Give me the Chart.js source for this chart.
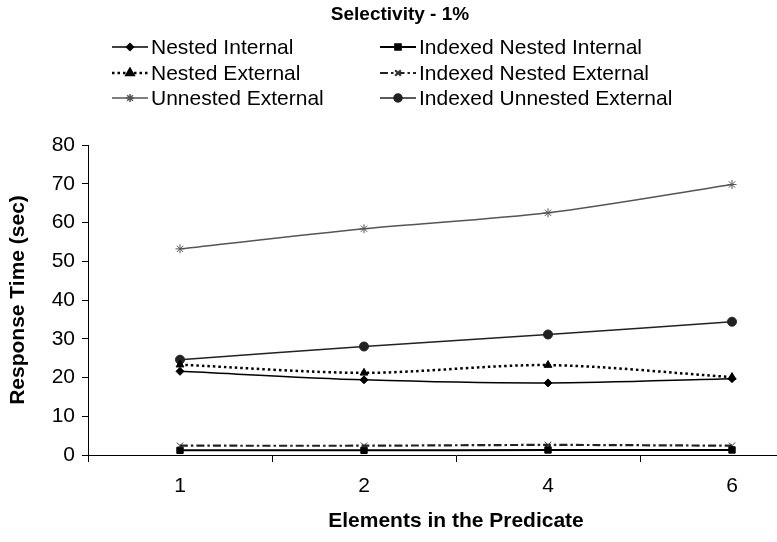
<!DOCTYPE html>
<html>
<head>
<meta charset="utf-8">
<script src="https://cdn.jsdelivr.net/npm/chart.js@4"></script>
<style>
  html, body { margin: 0; padding: 0; background: #fff; overflow: hidden; }
  #wrap { width: 830px; height: 542px; }
</style>
</head>
<body>
<div id="wrap"><canvas id="myChart"></canvas></div>
<script>
// Data
const categories = ['1', '2', '4', '6'];
const nestedInternal = [21.6, 19.4, 18.6, 19.7];
const indexedNestedInternal = [1.2, 1.2, 1.3, 1.3];
const nestedExternal = [23.3, 21.2, 23.2, 20.1];
const indexedNestedExternal = [2.4, 2.4, 2.6, 2.4];
const unnestedExternal = [53.2, 58.4, 62.5, 69.8];
const indexedUnnestedExternal = [24.6, 28.0, 31.1, 34.4];
const yTicks = [0, 10, 20, 30, 40, 50, 60, 70, 80];

const FONT = '"Liberation Sans", Arial, sans-serif';

// Legend laid out as a 2x3 grid like the original
const legendCols = [112, 380];
const legendRows = [47, 73, 98];
const legendLine = 36;

const gridLegend = {
  id: 'gridLegend',
  afterDraw(chart) {
    const ctx = chart.ctx;
    chart.data.datasets.forEach((ds, i) => {
      const x = legendCols[i % 2];
      const y = legendRows[Math.floor(i / 2)];
      ctx.save();
      ctx.strokeStyle = ds.borderColor;
      ctx.lineWidth = ds.borderWidth;
      ctx.setLineDash(ds.borderDash || []);
      ctx.beginPath();
      ctx.moveTo(x, y);
      ctx.lineTo(x + legendLine, y);
      ctx.stroke();
      ctx.setLineDash([]);
      ctx.fillStyle = ds.pointBackgroundColor;
      ctx.strokeStyle = ds.pointBorderColor;
      Chart.helpers.drawPoint(ctx, {
        pointStyle: ds.pointStyle,
        radius: ds.pointRadius - 0.5,
        borderWidth: 1,
        rotation: 0
      }, x + legendLine / 2, y);
      ctx.fillStyle = '#000';
      ctx.font = '21px ' + FONT;
      ctx.textBaseline = 'middle';
      ctx.fillText(ds.label, x + legendLine + 3, y + 1);
      ctx.restore();
    });
  }
};

function series(label, data, style) {
  return Object.assign({
    label: label,
    data: data,
    borderColor: '#000',
    backgroundColor: '#000',
    pointBackgroundColor: '#000',
    pointBorderColor: '#000',
    borderWidth: 1.5,
    pointRadius: 4,
    pointBorderWidth: 1,
    tension: 0.3,
    fill: false
  }, style);
}

const ctx = document.getElementById('myChart');

new Chart(ctx, {
  type: 'line',
  data: {
    labels: categories,
    datasets: [
      series('Nested Internal', nestedInternal, { pointStyle: 'rectRot', pointRadius: 4 }),
      series('Indexed Nested Internal', indexedNestedInternal, { pointStyle: 'rect', pointRadius: 4.5, borderWidth: 2 }),
      series('Nested External', nestedExternal, { pointStyle: 'triangle', pointRadius: 4.5, borderWidth: 2.5, borderDash: [2.5, 3] }),
      series('Indexed Nested External', indexedNestedExternal, { pointStyle: 'crossRot', pointRadius: 4.5, borderWidth: 2.2, borderDash: [8, 3, 2.5, 3], borderColor: '#222', pointBorderColor: '#333' }),
      series('Unnested External', unnestedExternal, { pointStyle: 'star', pointRadius: 4.5, borderColor: '#555', pointBorderColor: '#555', pointBackgroundColor: '#555' }),
      series('Indexed Unnested External', indexedUnnestedExternal, { pointStyle: 'circle', pointRadius: 4.5, borderColor: '#222', pointBackgroundColor: '#222', pointBorderColor: '#222' })
    ]
  },
  options: {
    responsive: true,
    maintainAspectRatio: false,
    animation: false,
    layout: { padding: { top: 145, right: 6, left: 0, bottom: 0 } },
    plugins: {
      legend: { display: false },
      tooltip: { enabled: false },
      title: { display: false }
    },
    scales: {
      x: {
        offset: true,
        grid: { offset: true, drawOnChartArea: false, drawTicks: true, tickLength: 7, color: '#000', lineWidth: 1 },
        border: { display: true, color: '#000', width: 1 },
        ticks: { color: '#000', font: { family: FONT, size: 21 }, padding: 12 },
        title: { display: true, text: 'Elements in the Predicate', color: '#000', font: { family: FONT, size: 21, weight: 'bold' }, padding: { top: 0, bottom: 8 } },
        afterFit(scale) { scale.height = 87; }
      },
      y: {
        min: 0,
        max: 80,
        afterBuildTicks(scale) { scale.ticks = yTicks.map(v => ({ value: v })); },
        grid: { drawOnChartArea: false, drawTicks: true, tickLength: 6, color: '#000', lineWidth: 1 },
        border: { display: true, color: '#000', width: 1 },
        ticks: { color: '#000', font: { family: FONT, size: 21 }, padding: 7 },
        title: { display: true, text: 'Response Time (sec)', color: '#000', font: { family: FONT, size: 21, weight: 'bold' }, padding: { top: 6, bottom: 0 } },
        afterFit(scale) { scale.width = 88; }
      }
    }
  },
  plugins: [gridLegend, {
    id: 'topTitle',
    afterDraw(chart) {
      const c = chart.ctx;
      c.save();
      c.fillStyle = '#000';
      c.font = 'bold 19px ' + FONT;
      c.textAlign = 'center';
      c.textBaseline = 'middle';
      c.fillText('Selectivity - 1%', 400, 15);
      c.restore();
    }
  }]
});
</script>
</body>
</html>
